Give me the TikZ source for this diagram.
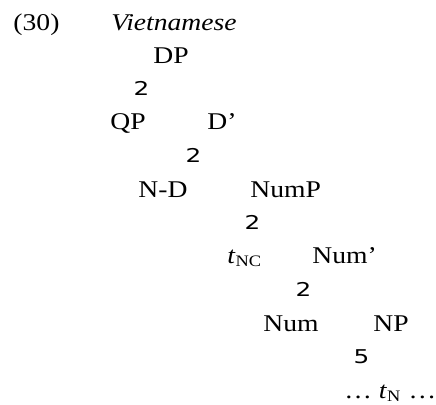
\documentclass[tikz,border=0pt]{standalone}
\usepackage{fontspec}
\setmainfont{Liberation Serif}
\newfontfamily\branchfont{DejaVu Sans}
\usetikzlibrary{positioning}

\tikzset{
  lab/.style={anchor=base west, inner sep=0pt, xscale=1.15,
    font=\fontsize{12}{14}\selectfont},
  fork/.style={anchor=base west, inner sep=0pt, xscale=1.3,
    font=\branchfont\fontsize{9.5}{11}\selectfont}
}

\begin{document}
\begin{tikzpicture}[x=0.5pt, y=-0.5pt]
\useasboundingbox (0,0) rectangle (436,404);
% heading
\node[lab] (num) at (13,30) {(30)};
\node[lab] (lang) at (111,30) {\textit{Vietnamese}};
% tree labels
\node[lab] (dp) at (153,63) {DP};
\node[lab] (qp) at (110,129) {QP};
\node[lab] (dbar) at (207,129) {D’};
\node[lab] (nd) at (138,197) {N-D};
\node[lab] (nump) at (250,197) {NumP};
\node[lab] (tnc) at (227,263) {\textit{t}\textsubscript{NC}};
\node[lab] (numbar) at (312,263) {Num’};
\node[lab] (numh) at (263,331) {Num};
\node[lab] (np) at (373,331) {NP};
\node[lab] (tn) at (344,398) {… \textit{t}\textsubscript{N} …};
% branch glyphs
\foreach \x/\y/\g [count=\i] in {133/95/2, 185/162/2, 244/229/2, 295/296/2, 353/363/5} {
 \node[fork] (fork\i) at (\x,\y) {\g};
}
\end{tikzpicture}
\end{document}
